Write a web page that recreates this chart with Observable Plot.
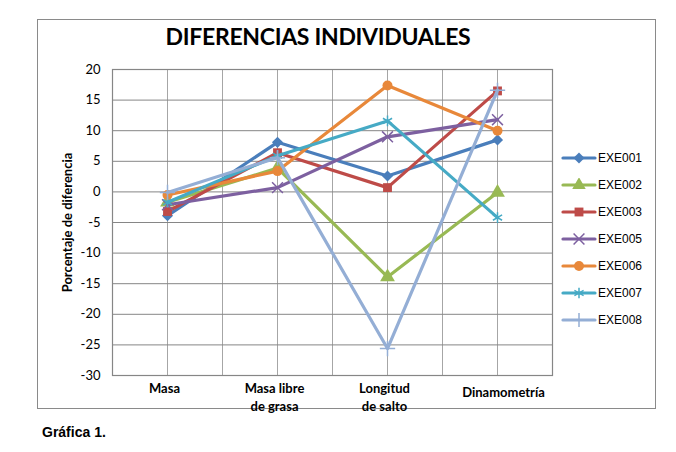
<!DOCTYPE html>
<html>
<head>
<meta charset="utf-8">
<script src="https://cdn.jsdelivr.net/npm/d3@7"></script>
<script src="https://cdn.jsdelivr.net/npm/@observablehq/plot@0.6"></script>
<style>
  html, body { margin: 0; padding: 0; background: #fff; }
  #wrap { position: relative; width: 676px; height: 452px; overflow: hidden; background: #fff; }
  #frame { position: absolute; left: 37px; top: 19px; width: 619px; height: 390px; border: 1.5px solid #8a8a8a; box-sizing: border-box; }
  #title { position: absolute; left: 37px; width: 562px; top: 22px; text-align: center; font: bold 23px Lato, "Open Sans", sans-serif; color: #000; letter-spacing: -0.3px; }
  #caption { position: absolute; left: 42px; top: 424px; font: bold 14px "Liberation Sans", Arial, sans-serif; color: #000; }
  #chart { position: absolute; left: 0; top: 0; }
  #legend { position: absolute; left: 560px; top: 144px; }
  .item { height: 27px; display: flex; align-items: center; font: 12px "Liberation Sans", Arial, sans-serif; color: #000; }
</style>
</head>
<body>
<div id="wrap">
  <div id="frame"></div>
  <div id="chart"></div>
  <div id="title">DIFERENCIAS INDIVIDUALES</div>
  <div id="legend"></div>
  <div id="caption">Gráfica 1.</div>
</div>
<script>
const categories = ["Masa", "Masa libre\nde grasa", "Longitud\nde salto", "Dinamometría"];
const seriesNames = ["EXE001", "EXE002", "EXE003", "EXE005", "EXE006", "EXE007", "EXE008"];
const EXE001 = [-3.9, 8.1, 2.6, 8.5];
const EXE002 = [-1.7, 3.9, -13.9, -0.1];
const EXE003 = [-3.2, 6.4, 0.7, 16.5];
const EXE005 = [-2.1, 0.7, 9.0, 11.8];
const EXE006 = [-0.5, 3.4, 17.4, 10.0];
const EXE007 = [-1.7, 5.9, 11.6, -4.2];
const EXE008 = [-0.1, 5.6, -25.6, 16.6];
const seriesValues = [EXE001, EXE002, EXE003, EXE005, EXE006, EXE007, EXE008];
const colors = ["#4A7EBB", "#98B954", "#BE4B48", "#7D60A0", "#E8883A", "#46AAC5", "#94AED5"];
const symbols = ["diamond2", "triangle", "square", "times", "circle", "asterisk", "plus"];
const filled = [true, true, true, false, true, false, false];
const yTicks = [-30, -25, -20, -15, -10, -5, 0, 5, 10, 15, 20];

const data = [];
seriesNames.forEach((s, i) => {
  seriesValues[i].forEach((v, j) => data.push({series: s, idx: i, cat: j, value: v}));
});

const gridX = d3.range(-0.5, 3.51, 0.5);
const font = "Lato, 'Open Sans', sans-serif";

const marks = [
  Plot.ruleX(gridX, {stroke: "#a6a6a6", strokeWidth: 1}),
  Plot.ruleY(yTicks, {stroke: "#868686", strokeWidth: 1}),
  Plot.frame({stroke: "#868686", strokeWidth: 1.2}),
  Plot.axisY({ticks: yTicks, tickSize: 0, tickPadding: 12, label: null,
    tickFormat: d => String(d), fontSize: 13, fontFamily: font}),
  Plot.axisX([0, 1, 2], {tickSize: 0, tickPadding: 4, label: null, lineAnchor: "top", lineHeight: 1.42,
    tickFormat: d => categories[d], fontSize: 13, fontWeight: "bold", fontFamily: font, dx: -3}),
  Plot.axisX([3], {tickSize: 0, tickPadding: 12, label: null, lineAnchor: "top",
    tickFormat: d => categories[d], fontSize: 13, fontWeight: "bold", fontFamily: font, dx: 6}),
  Plot.text(["Porcentaje de diferencia"], {frameAnchor: "left", rotate: -90, dx: -45, textAnchor: "middle",
    fontSize: 13, fontWeight: "bold", fontFamily: font, fill: "#000"})
];
seriesNames.forEach((s, i) => {
  const d = data.filter(r => r.series === s);
  marks.push(Plot.line(d, {x: "cat", y: "value", stroke: colors[i], strokeWidth: 3.2, strokeLinejoin: "round"}));
  marks.push(Plot.dot(d, {x: "cat", y: "value", symbol: () => symbols[i], r: symbols[i] === "triangle" ? 5.5 : 5,
    fill: filled[i] ? colors[i] : "none", stroke: colors[i], strokeWidth: filled[i] ? 0 : 1.5}));
});

const chart = Plot.plot({
  width: 676, height: 452,
  marginLeft: 112, marginRight: 124, marginTop: 69, marginBottom: 77,
  x: {domain: [-0.5, 3.5], axis: null},
  y: {domain: [-30, 20], axis: null},
  symbol: {type: "identity"},
  style: {background: "transparent", overflow: "visible"},
  marks
});
document.getElementById("chart").appendChild(chart);

// Legend
const legend = d3.select("#legend");
seriesNames.forEach((s, i) => {
  const item = legend.append("div").attr("class", "item");
  const svg = item.append("svg").attr("width", 38).attr("height", 14);
  svg.append("line").attr("x1", 3).attr("x2", 35).attr("y1", 7).attr("y2", 7)
    .attr("stroke", colors[i]).attr("stroke-width", 3.2).attr("stroke-linecap", "round");
  const sym = {diamond2: d3.symbolDiamond2, triangle: d3.symbolTriangle, square: d3.symbolSquare,
    times: d3.symbolTimes, circle: d3.symbolCircle, asterisk: d3.symbolAsterisk, plus: d3.symbolPlus}[symbols[i]];
  svg.append("path").attr("transform", "translate(19,7)")
    .attr("d", d3.symbol(sym, Math.PI * 25)())
    .attr("fill", filled[i] ? colors[i] : "none")
    .attr("stroke", filled[i] ? "none" : colors[i]).attr("stroke-width", 1.5);
  item.append("span").text(s);
});
</script>
</body>
</html>
